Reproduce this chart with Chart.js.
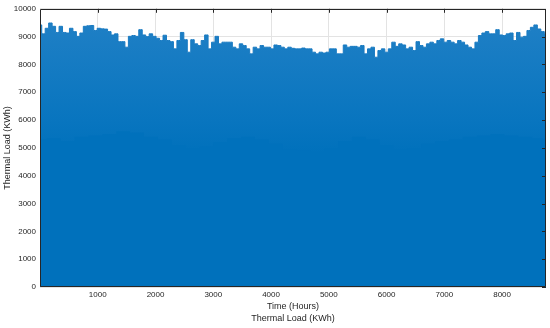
<!DOCTYPE html>
<html>
<head>
<meta charset="utf-8">
<script src="https://cdn.jsdelivr.net/npm/chart.js@4.4.1/dist/chart.umd.min.js"></script>
<style>
  html, body { margin: 0; padding: 0; background: #ffffff; }
  #wrap { width: 550px; height: 328px; position: relative; }
</style>
</head>
<body>
<div id="wrap"><canvas id="c" width="550" height="328"></canvas></div>
<script>
// ---- data ----
// Upper envelope of the hourly thermal load, one reading every 60 hours (hour 0 .. 8760)
const peakStepHours = 60;
const peakLoad = [
  9420, 9100, 9300, 9490, 9370, 9150, 9370, 9150, 9130, 9300,
  9180, 9010, 9130, 9370, 9390, 9400, 9220, 9300, 9280, 9270,
  9180, 9060, 9100, 8820, 8820, 8620, 9010, 9040, 9010, 9250,
  9060, 9000, 9100, 9010, 8940, 8860, 9050, 8860, 8820, 8560,
  8860, 9150, 8890, 8440, 8890, 8740, 8680, 8860, 9060, 8560,
  8800, 9010, 8740, 8800, 8800, 8800, 8620, 8560, 8740, 8680,
  8560, 8380, 8620, 8560, 8680, 8620, 8620, 8560, 8700, 8680,
  8620, 8560, 8620, 8580, 8560, 8560, 8590, 8560, 8560, 8440,
  8380, 8440, 8410, 8440, 8560, 8560, 8380, 8380, 8700, 8620,
  8650, 8650, 8620, 8680, 8380, 8560, 8620, 8260, 8500, 8560,
  8440, 8560, 8800, 8650, 8740, 8700, 8560, 8620, 8500, 8820,
  8680, 8620, 8740, 8800, 8740, 8860, 8920, 8800, 8860, 8800,
  8740, 8860, 8800, 8700, 8620, 8560, 8800, 9040, 9130, 9180,
  9100, 9100, 9250, 9060, 9040, 9100, 9130, 8860, 9150, 8980,
  9010, 9220, 9335, 9420, 9275, 9180, 9100
];
// Lower envelope (daily minimum load), one reading every 240 hours
const troughStepHours = 240;
const troughLoad = [
  5300, 5350, 5250, 5400, 5450, 5500, 5600, 5550, 5400, 5300,
  5100, 5000, 5050, 5200, 5350, 5400, 5300, 5150, 4950, 4900,
  4850, 5000, 5250, 5400, 5300, 5100, 4950, 5000, 5150, 5250,
  5300, 5400, 5450, 5500, 5450, 5400, 5350, 5300
];
const xTicks = [1000, 2000, 3000, 4000, 5000, 6000, 7000, 8000];
const yTicks = [0, 1000, 2000, 3000, 4000, 5000, 6000, 7000, 8000, 9000, 10000];
const xLabel = ['Time (Hours)', 'Thermal Load (KWh)'];
const yLabel = 'Thermal Load (KWh)';

const peakPoints = peakLoad.map((v, i) => ({ x: Math.min(i * peakStepHours, 8760), y: v }));
const troughPoints = troughLoad.map((v, i) => ({ x: Math.min(i * troughStepHours, 8760), y: v }));

const FONT = '"Liberation Sans", Arial, Helvetica, sans-serif';

function upperFill(context) {
  const chart = context.chart;
  const { ctx, chartArea, scales } = chart;
  if (!chartArea) return '#1779c1';
  const y0 = scales.y.getPixelForValue(4800);
  const y1 = scales.y.getPixelForValue(9400);
  const g = ctx.createLinearGradient(0, y0, 0, y1);
  g.addColorStop(0, '#0071bc');
  g.addColorStop(0.25, '#0875bf');
  g.addColorStop(1, '#1e7fc5');
  return g;
}

const boxPlugin = {
  id: 'matlabBox',
  afterDraw(chart) {
    const { ctx, chartArea: a, scales } = chart;
    ctx.save();
    ctx.strokeStyle = '#262626';
    ctx.lineWidth = 1;
    ctx.beginPath();
    ctx.rect(Math.round(a.left) + 0.5, Math.round(a.top) + 0.5,
             Math.round(a.right - a.left) - 1, Math.round(a.bottom - a.top) - 1);
    ctx.stroke();
    ctx.beginPath();
    xTicks.forEach(v => {
      const px = Math.round(scales.x.getPixelForValue(v)) + 0.5;
      ctx.moveTo(px, a.top); ctx.lineTo(px, a.top + 4);
    });
    yTicks.forEach(v => {
      const py = Math.round(scales.y.getPixelForValue(v)) + 0.5;
      ctx.moveTo(a.right, py); ctx.lineTo(a.right - 4, py);
    });
    ctx.stroke();
    ctx.restore();
  }
};

new Chart(document.getElementById('c'), {
  type: 'line',
  data: {
    datasets: [
      {
        label: 'min',
        data: troughPoints,
        stepped: 'middle',
        fill: 'origin',
        backgroundColor: '#0071bc',
        borderColor: '#0071bc',
        borderWidth: 0,
        pointRadius: 0
      },
      {
        label: 'Thermal Load (KWh)',
        data: peakPoints,
        stepped: 'middle',
        fill: 'origin',
        backgroundColor: upperFill,
        borderColor: '#1a7bc2',
        borderWidth: 1,
        pointRadius: 0
      }
    ]
  },
  options: {
    responsive: false,
    animation: false,
    events: [],
    layout: { padding: { top: 8, right: 4, left: 0, bottom: 0 } },
    plugins: { legend: { display: false }, tooltip: { enabled: false } },
    scales: {
      x: {
        type: 'linear',
        min: 0,
        max: 8760,
        afterBuildTicks(s) { s.ticks = xTicks.map(v => ({ value: v })); },
        afterFit(s) { s.height = 41; },
        grid: { color: '#e3e3e3', lineWidth: 1, drawTicks: false },
        border: { display: false },
        ticks: { padding: 3, color: '#262626', maxRotation: 0, autoSkip: false,
                 callback: v => String(v),
                 font: { family: FONT, size: 8 } },
        title: { display: true, text: xLabel, color: '#262626',
                 padding: { top: 0, bottom: 4 },
                 font: { family: FONT, size: 9, lineHeight: 1.3 } }
      },
      y: {
        type: 'linear',
        min: 0,
        max: 10000,
        afterBuildTicks(s) { s.ticks = yTicks.map(v => ({ value: v })); },
        afterFit(s) { s.width = 40; },
        grid: { color: '#e3e3e3', lineWidth: 1, drawTicks: false },
        border: { display: false },
        ticks: { padding: 4, color: '#262626', autoSkip: false,
                 callback: v => String(v),
                 font: { family: FONT, size: 8 } },
        title: { display: true, text: yLabel, color: '#262626',
                 padding: { top: 2, bottom: 0 },
                 font: { family: FONT, size: 9 } }
      }
    }
  },
  plugins: [boxPlugin]
});
</script>
</body>
</html>
